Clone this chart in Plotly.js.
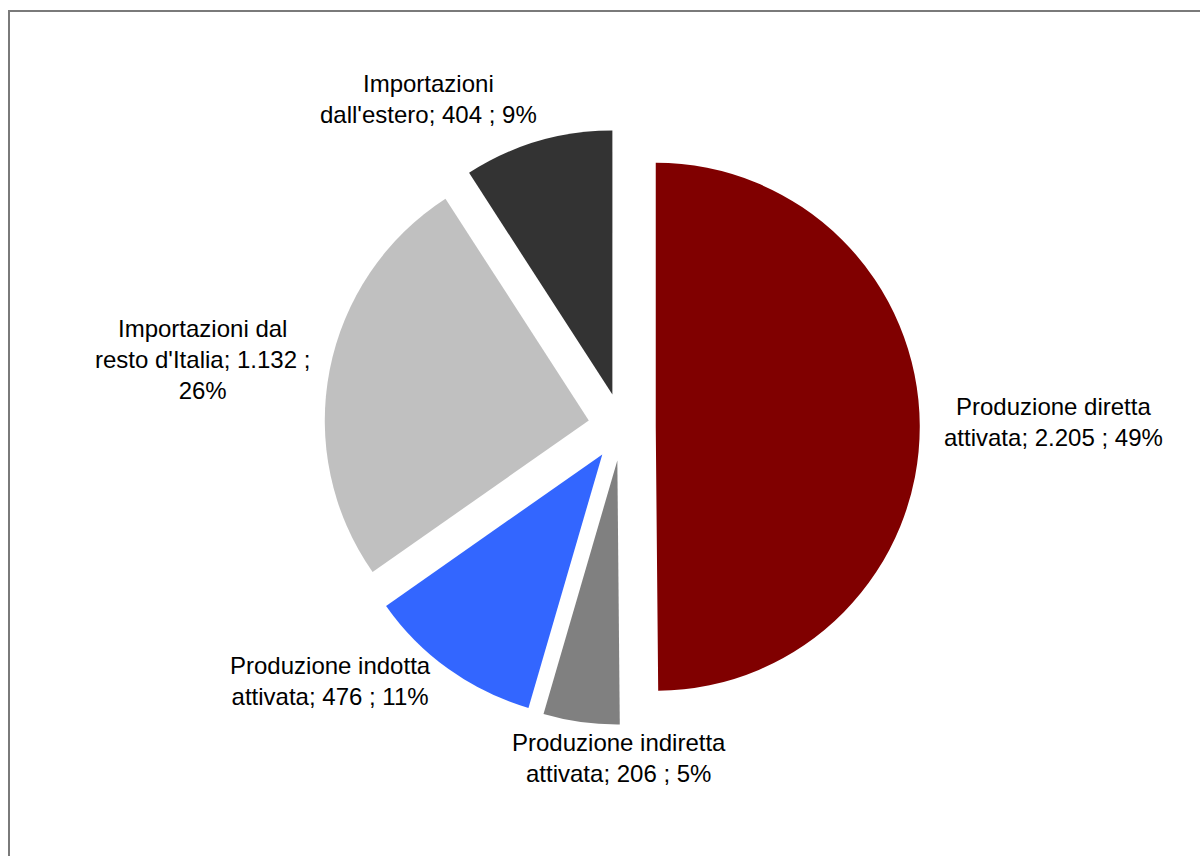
<!DOCTYPE html>
<html>
<head>
<meta charset="utf-8">
<script src="https://cdn.plot.ly/plotly-3.0.1.min.js"></script>
<style>html,body{margin:0;padding:0;background:#fff;}#chart{width:1200px;height:856px;}</style>
</head>
<body>
<div id="chart"></div>
<script>
// Data
const categories = [
  "Produzione diretta attivata",
  "Produzione indiretta attivata",
  "Produzione indotta attivata",
  "Importazioni dal resto d'Italia",
  "Importazioni dall'estero"
];
const values = [2205, 206, 476, 1132, 404];
const valueLabels = ["2.205", "206", "476", "1.132", "404"];
const percentLabels = ["49%", "5%", "11%", "26%", "9%"];
const colors = ["#800000", "#808080", "#3366FF", "#C0C0C0", "#333333"];

// Label text layout (line breaks as in the original)
const labelTexts = [
  "Produzione diretta<br>attivata; " + valueLabels[0] + " ; " + percentLabels[0],
  "Produzione indiretta<br>attivata; " + valueLabels[1] + " ; " + percentLabels[1],
  "Produzione indotta<br>attivata; " + valueLabels[2] + " ; " + percentLabels[2],
  "Importazioni dal<br>resto d'Italia; " + valueLabels[3] + " ;<br>" + percentLabels[3],
  "Importazioni<br>dall'estero; " + valueLabels[4] + " ; " + percentLabels[4]
];
// label centres in pixels
const labelPosX = [1053, 619, 330, 202, 428];
const labelPosY = [422, 758, 681, 360, 99];

const W = 1200, H = 856;
const FONT = "Liberation Sans, Arial, sans-serif";

const trace = {
  type: "pie",
  labels: categories,
  values: values,
  sort: false,
  direction: "clockwise",
  rotation: 0,
  pull: [0.128, 0.128, 0.128, 0.128, 0.128],
  marker: { colors: colors, line: { width: 0 } },
  textinfo: "none",
  hoverinfo: "label+value+percent",
  showlegend: false,
  domain: { x: [0.2183, 0.8183], y: [0.1533, 0.8491] }
};

const annotations = labelTexts.map((t, i) => ({
  text: t,
  xref: "paper", yref: "paper",
  x: labelPosX[i] / W, y: 1 - labelPosY[i] / H,
  xanchor: "center", yanchor: "middle",
  showarrow: false,
  align: "center",
  font: { family: FONT, size: 24, color: "#000" }
}));

const layout = {
  width: W, height: H,
  margin: { l: 0, r: 0, t: 0, b: 0 },
  paper_bgcolor: "#fff",
  plot_bgcolor: "#fff",
  font: { family: FONT, size: 24, color: "#000" },
  annotations: annotations,
  shapes: [{
    type: "rect", xref: "paper", yref: "paper",
    x0: 9 / W, x1: 1.02, y0: -0.02, y1: 1 - 11 / H,
    line: { color: "#7a7a7a", width: 2 },
    fillcolor: "rgba(0,0,0,0)", layer: "below"
  }]
};

Plotly.newPlot("chart", [trace], layout, { staticPlot: true, displayModeBar: false });
</script>
</body>
</html>
